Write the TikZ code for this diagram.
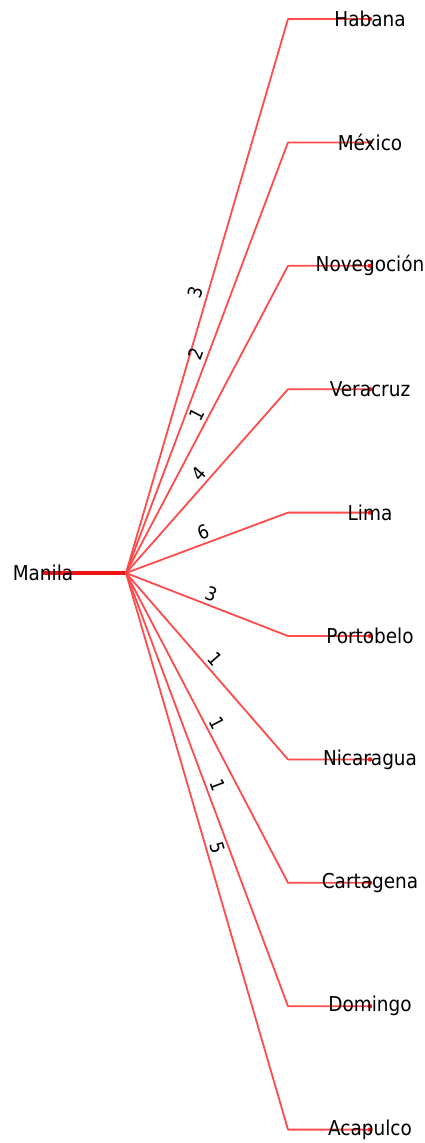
\documentclass[tikz,border=0pt]{standalone}
\usepackage{fontspec}
\setmainfont{DejaVu Sans Condensed}
\pgfdeclarelayer{background}
\pgfsetlayers{background,main}
\definecolor{linkred}{RGB}{255,75,75}
\definecolor{hubred}{RGB}{240,20,20}
\begin{document}
\begin{tikzpicture}[x=1pt,y=-1pt,
  branch/.style={draw=linkred, line width=1.8pt, line join=round},
  trunk/.style={draw=hubred, line width=4pt},
  city/.style={font=\fontsize{20.5}{24}\selectfont, inner sep=1pt},
  count/.style={font=\fontsize{19}{22}\selectfont, sloped, above, inner sep=3.5pt},
  enddot/.style={fill=hubred, draw=none}]
\useasboundingbox (0,0) rectangle (425,1143);
\coordinate (hub) at (126,573);
\node[city] (manila) at (43,573) {Manila};
\begin{pgfonlayer}{background}
  \draw[trunk] (manila.center) -- (hub);
\end{pgfonlayer}
\foreach \name/\num [count=\i from 0] in
  {Habana/3, México/2, Novegoción/1, Veracruz/4, Lima/6,
   Portobelo/3, Nicaragua/1, Cartagena/1, Domingo/1, Acapulco/5}{
  \pgfmathsetmacro{\yy}{19+123.4*\i}
  \coordinate (bend\i) at (288,\yy);
  \node[city] (city\i) at (370,\yy) {\name};
  \begin{pgfonlayer}{background}
    \draw[branch] (hub) -- node[count] {\num} (bend\i) -- (city\i.center);
    \fill[enddot] (city\i.center) circle (2.2pt);
  \end{pgfonlayer}
}
\end{tikzpicture}
\end{document}
